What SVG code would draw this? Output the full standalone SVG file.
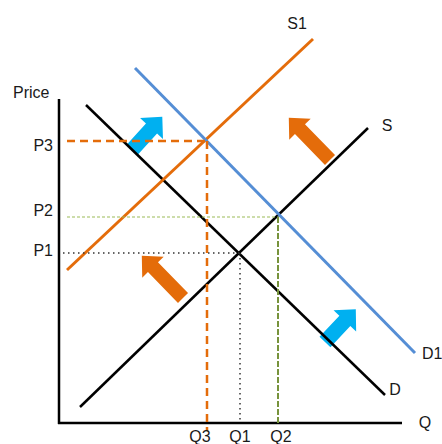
<svg xmlns="http://www.w3.org/2000/svg" width="442" height="444" viewBox="0 0 442 444">
<style>
text{font-family:"Liberation Sans",Arial,sans-serif;font-size:16px;fill:#1a1a1a}
.axis{stroke:#000;stroke-width:2.5;fill:none}
.blk{stroke:#000;stroke-width:2.5;fill:none}
.org{stroke:#E46C0A;stroke-width:3;fill:none}
.blu{stroke:#558ED5;stroke-width:3;fill:none}
.odash{stroke:#E46C0A;stroke-width:2.5;stroke-dasharray:8 5;fill:none}
.gdot{stroke:#9BBB59;stroke-width:1.2;stroke-dasharray:3 2;fill:none}
.gvert{stroke:#77933C;stroke-width:2;stroke-dasharray:6 2;fill:none}
.kdot{stroke:#333;stroke-width:1.5;stroke-dasharray:1.5 3.5;fill:none}
.oarr{fill:#E46C0A}
.barr{fill:#00B0F0}
</style>
<defs>
<polygon id="oa" points="0,-7 43,-7 43,-15 59,0 43,15 43,7 0,7"/>
<polygon id="ba" points="0,-7.5 29,-7.5 29,-15.5 45,0 29,15.5 29,7.5 0,7.5"/>
</defs>
<g id="shift-arrows">
<use href="#oa" class="oarr" transform="translate(330,160) rotate(-134.3)"/>
<use href="#oa" class="oarr" transform="translate(183,298) rotate(-134.3)"/>
<use href="#ba" class="barr" transform="translate(132,150) rotate(-47.7)"/>
<use href="#ba" class="barr" transform="translate(325,342) rotate(-46.8)"/>
</g>
<g id="axes">
<line class="axis" x1="59" y1="99" x2="59" y2="424"/>
<line class="axis" x1="58" y1="423" x2="402" y2="423"/>
</g>
<g id="curves">
<line id="S" class="blk" x1="80" y1="407" x2="368" y2="128"/>
<line id="D" class="blk" x1="86" y1="105" x2="385" y2="395"/>
<line id="S1" class="org" x1="67" y1="270" x2="313" y2="39"/>
<line id="D1" class="blu" x1="135" y1="68" x2="415" y2="353"/>
</g>
<g id="guides">
<line class="odash" x1="67" y1="141" x2="207" y2="141"/>
<line class="odash" x1="207" y1="141" x2="207" y2="431"/>
<line class="gdot" x1="67" y1="217" x2="278" y2="217"/>
<line class="gvert" x1="278" y1="217" x2="278" y2="423"/>
<line class="kdot" x1="63" y1="253" x2="240" y2="253"/>
<line class="kdot" x1="240" y1="253" x2="240" y2="423"/>
</g>
<g id="labels">
<text x="13" y="98">Price</text>
<text x="53" y="151" text-anchor="end">P3</text>
<text x="53" y="216" text-anchor="end">P2</text>
<text x="53" y="256" text-anchor="end">P1</text>
<text x="297" y="29" text-anchor="middle" font-size="14">S1</text>
<text x="387" y="131" text-anchor="middle" font-size="15">S</text>
<text x="422" y="359" font-size="14">D1</text>
<text x="395" y="395" text-anchor="middle" font-size="15">D</text>
<text x="425" y="428" text-anchor="middle">Q</text>
<text x="200" y="442" text-anchor="middle">Q3</text>
<text x="240" y="442" text-anchor="middle">Q1</text>
<text x="281" y="442" text-anchor="middle">Q2</text>
</g>
</svg>
